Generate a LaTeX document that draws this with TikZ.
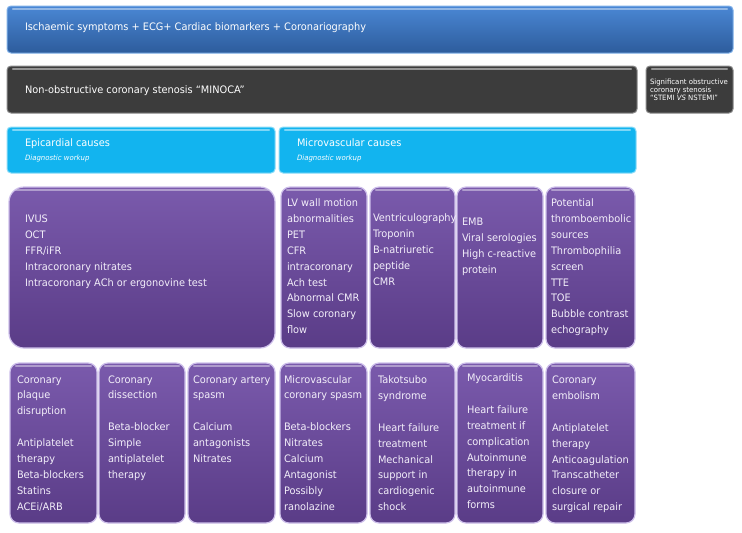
\documentclass[tikz,border=0pt]{standalone}
\usepackage{fontspec}
\setmainfont{DejaVu Sans}[FakeStretch=0.95]
\usetikzlibrary{calc,fit}
\definecolor{bluetop}{HTML}{4A87D4}
\definecolor{bluebot}{HTML}{2D5C9C}
\definecolor{blueedge}{HTML}{7FB0E8}
\definecolor{darkfill}{HTML}{3C3C3C}
\definecolor{darkedge}{HTML}{8A8A8A}
\definecolor{cyanfill}{HTML}{12B4EF}
\definecolor{cyanedge}{HTML}{8CDCF8}
\definecolor{ptop}{HTML}{7A5AAC}
\definecolor{pbot}{HTML}{5A3C87}
\definecolor{pedge}{HTML}{CDBFEA}
\definecolor{ptextc}{HTML}{F3EFFA}
\newcommand\mylines[1]{\begin{tabular}[t]{@{}l@{}}#1\end{tabular}}
\begin{document}
\begin{tikzpicture}[x=1pt,y=-1pt,
 base/.style={inner sep=0pt, outer sep=0pt},
 gloss/.style={path picture={\draw[#1, line width=2.2pt, line cap=round]
   ($(path picture bounding box.north west)+(6pt,-3pt)$) --
   ($(path picture bounding box.north east)+(-6pt,-3pt)$);}},
 gbox/.style={base, line width=1pt, rounded corners=4pt},
 bluebox/.style={gbox, draw=blueedge, top color=bluetop, bottom color=bluebot, gloss=bluetop!60!white},
 darkbox/.style={gbox, draw=darkedge, fill=darkfill, gloss=darkfill!55!white},
 cyanbox/.style={gbox, draw=cyanedge, fill=cyanfill, gloss=cyanfill!55!white},
 purplebox/.style={base, line width=1.2pt, rounded corners=9pt, draw=pedge, top color=ptop, bottom color=pbot, gloss=ptop!60!white},
 wtext/.style={base, text=white, font=\fontsize{10.3}{12}\selectfont, anchor=base west},
 subtext/.style={base, text=white, font=\fontsize{7.3}{8}\selectfont\itshape, anchor=base west},
 ptext/.style={base, text=ptextc, font=\fontsize{10.3}{15.9}\selectfont, anchor=base west},
]
\useasboundingbox[fill=white] (0,0) rectangle (742,533);

% top rows
\node[bluebox, fit={(7,6) (733,53)}] (top) {};
\node[wtext] (toptext) at (25,30.5) {Ischaemic symptoms + ECG+ Cardiac biomarkers + Coronariography};

\node[darkbox, fit={(7,66) (637,113)}] (minoca) {};
\node[wtext] (minocatext) at (25,93) {Non-obstructive coronary stenosis “MINOCA”};

\node[darkbox, fit={(646,66) (733,113)}] (stemi) {};
\node[base, text=white, font=\fontsize{7.3}{7.6}\selectfont, anchor=base west] (stemitext) at (650,84.5)
 {\mylines{Significant obstructive\\coronary stenosis\\“STEMI \textit{VS} NSTEMI”}};

\node[cyanbox, fit={(7,127) (275,173)}] (epi) {};
\node[wtext] (epitext) at (25,146.5) {Epicardial causes};
\node[subtext] (episub) at (25,160.5) {Diagnostic workup};

\node[cyanbox, fit={(279,127) (636,173)}] (micro) {};
\node[wtext] (microtext) at (297,146.5) {Microvascular causes};
\node[subtext] (microsub) at (297,160.5) {Diagnostic workup};

% diagnostic workup row
\node[purplebox, rounded corners=15pt, fit={(9,187) (275,348)}] (d1) {};
\node[ptext] (d1t) at (25,222.5) {\mylines{IVUS\\OCT\\FFR/iFR\\Intracoronary nitrates\\Intracoronary ACh or ergonovine test}};

\node[purplebox, fit={(281,187) (367,348)}] (d2) {};
\node[ptext] (d2t) at (287,206.5) {\mylines{LV wall motion\\abnormalities\\PET\\CFR\\intracoronary\\Ach test\\Abnormal CMR\\Slow coronary\\flow}};

\node[purplebox, fit={(370,187) (455,348)}] (d3) {};
\node[ptext] (d3t) at (373,221.5) {\mylines{Ventriculography\\Troponin\\B-natriuretic\\peptide\\CMR}};

\node[purplebox, fit={(457,187) (543,348)}] (d4) {};
\node[ptext] (d4t) at (462,225.5) {\mylines{EMB\\Viral serologies\\High c-reactive\\protein}};

\node[purplebox, fit={(546,187) (635,348)}] (d5) {};
\node[ptext] (d5t) at (551,206.5) {\mylines{Potential\\thromboembolic\\sources\\Thrombophilia\\screen\\TTE\\TOE\\Bubble contrast\\echography}};

% treatment row
\node[purplebox, fit={(10,363) (97,523)}] (c1) {};
\node[ptext] (c1t) at (17,383) {\mylines{Coronary\\plaque\\disruption\\ \\Antiplatelet\\therapy\\Beta-blockers\\Statins\\ACEi/ARB}};

\node[purplebox, fit={(99,363) (185,523)}] (c2) {};
\node[ptext] (c2t) at (108,383) {\mylines{Coronary\\dissection\\ \\Beta-blocker\\Simple\\antiplatelet\\therapy}};

\node[purplebox, fit={(188,363) (275,523)}] (c3) {};
\node[ptext] (c3t) at (193,383) {\mylines{Coronary artery\\spasm\\ \\Calcium\\antagonists\\Nitrates}};

\node[purplebox, fit={(280,363) (367,523)}] (c4) {};
\node[ptext] (c4t) at (284,383) {\mylines{Microvascular\\coronary spasm\\ \\Beta-blockers\\Nitrates\\Calcium\\Antagonist\\Possibly\\ranolazine}};

\node[purplebox, fit={(370,363) (455,523)}] (c5) {};
\node[ptext] (c5t) at (378,383.5) {\mylines{Takotsubo\\syndrome\\ \\Heart failure\\treatment\\Mechanical\\support in\\cardiogenic\\shock}};

\node[purplebox, fit={(457,363) (543,523)}] (c6) {};
\node[ptext] (c6t) at (467,381.5) {\mylines{Myocarditis\\ \\Heart failure\\treatment if\\complication\\Autoinmune\\therapy in\\autoinmune\\forms}};

\node[purplebox, fit={(546,363) (635,523)}] (c7) {};
\node[ptext] (c7t) at (552,383.5) {\mylines{Coronary\\embolism\\ \\Antiplatelet\\therapy\\Anticoagulation\\Transcatheter\\closure or\\surgical repair}};
\end{tikzpicture}
\end{document}
